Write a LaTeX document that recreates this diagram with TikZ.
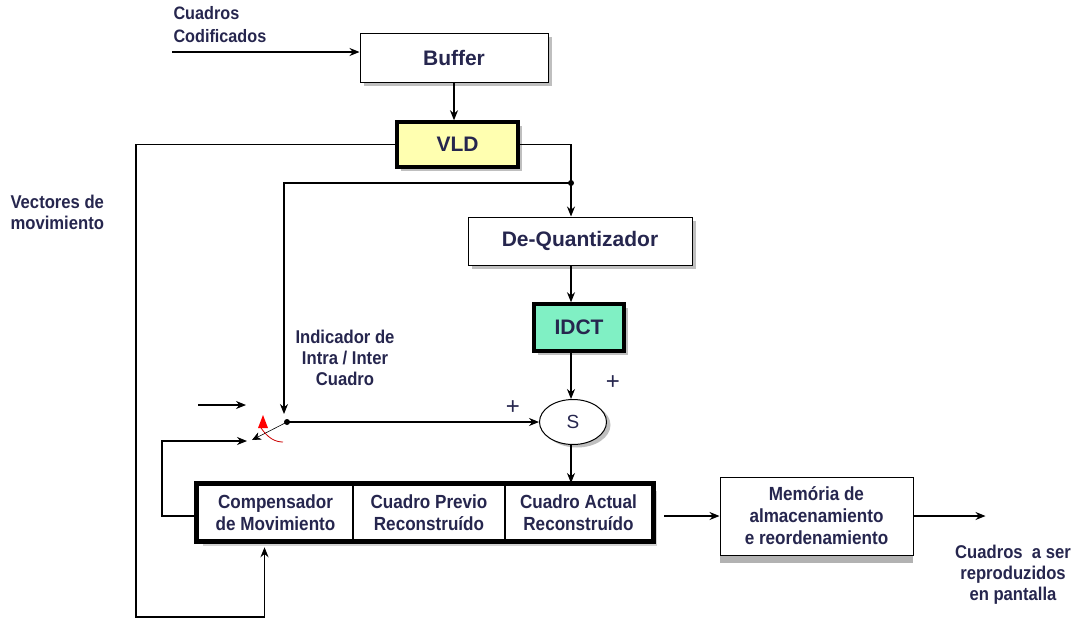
\documentclass[tikz,border=0pt]{standalone}
\usepackage{fontspec}
\setmainfont{Liberation Sans}
\newfontfamily\narrowfont[FakeStretch=0.9]{Liberation Sans}
\usepackage{tikz}
\usetikzlibrary{arrows.meta,positioning,shapes.geometric,shadows,fit,calc}
\definecolor{ink}{RGB}{38,38,78}
\definecolor{vldfill}{RGB}{255,255,176}
\definecolor{idctfill}{RGB}{128,240,196}

\begin{document}
\begin{tikzpicture}[x=1pt,y=-1pt,line width=1.1pt,
    >={Stealth[length=10pt,width=8pt]},
    lbl/.style={font=\narrowfont\bfseries\fontsize{18.5}{21}\selectfont,text=ink,align=center,inner sep=0pt},
    blk/.style={draw,fill=white,line width=1pt,inner sep=0pt,
                drop shadow={shadow xshift=4pt,shadow yshift=-4pt,fill=gray!50,opacity=1},
                font=\bfseries\fontsize{21}{24}\selectfont,text=ink},
    hblk/.style={blk,line width=3.5pt},
    cell/.style={draw,fill=white,line width=2.5pt,inner sep=0pt,minimum height=55pt,
                 font=\narrowfont\bfseries\fontsize{19}{22}\selectfont,text=ink,align=center}]
  \useasboundingbox (0,0) rectangle (1082,619);
  % blocks
  \node[blk,minimum width=188pt,minimum height=49pt] (buf) at (454,57.5) {Buffer};
  \node[hblk,fill=vldfill,minimum width=121pt,minimum height=45pt] (vld) at (457.5,144.5) {VLD};
  \node[blk,minimum width=224pt,minimum height=48pt] (deq) at (580,241) {De-Quantizador};
  \node[hblk,fill=idctfill,minimum width=90pt,minimum height=47pt] (idct) at (579,327.5) {IDCT};
  \node[draw,ellipse,fill=white,line width=1pt,minimum width=67pt,minimum height=45pt,
        drop shadow={shadow xshift=4pt,shadow yshift=-3pt,fill=gray!50,opacity=1},
        font=\fontsize{19}{21}\selectfont,text=ink] (sum) at (573,422) {S};
  \node[draw,line width=4pt,inner sep=0pt,minimum width=454pt,minimum height=55pt,
        drop shadow={shadow xshift=5pt,shadow yshift=-6pt,fill=gray!35,opacity=1}] (frm) at (425,512.5) {};
  \node[cell,minimum width=155pt] (comp) at (275.5,512.5) {Compensador\\de Movimiento};
  \node[cell,minimum width=152pt] (prev) at (429,512.5) {Cuadro Previo\\Reconstruído};
  \node[cell,minimum width=147pt] (act) at (578.5,512.5) {Cuadro Actual\\Reconstruído};
  \draw[line width=4pt] (frm.north west) rectangle (frm.south east);
  \node[cell,line width=1pt,minimum width=193pt,minimum height=78pt,
        drop shadow={shadow xshift=0pt,shadow yshift=-8pt,fill=gray!60,opacity=1}] (mem) at (816.5,516)
        {Memória de\\almacenamiento\\e reordenamiento};
  % labels
  \node[lbl,font=\narrowfont\bfseries\fontsize{18}{23}\selectfont,align=left,anchor=north west] (inlbl) at (173,6) {Cuadros\\Codificados};
  \node[lbl,align=left,anchor=north west] (vec) at (10,194.5) {Vectores de\\movimiento};
  \node[lbl,anchor=north] (ind) at (345,329.5) {Indicador de\\Intra / Inter\\Cuadro};
  \node[lbl,anchor=north] (outlbl) at (1013,544.5) {Cuadros \ a ser\\reproduzidos\\en pantalla};
  \node[font=\fontsize{24}{24}\selectfont,text=ink] (p1) at (613,383) {+};
  \node[font=\fontsize{24}{24}\selectfont,text=ink] (p2) at (513,408) {+};
  % switch
  \coordinate (swa) at (252,440);
  \coordinate (swb) at (287,422);
  \coordinate (swtop) at (284,414);
  \coordinate (swin) at (198,405);
  \coordinate (swin2) at (246,405);
  \coordinate (swlt) at (247,441);
  \fill (swb) circle (3pt);
  \draw[{Stealth[length=9pt,width=8pt]}-,line width=0.6pt] (swa) -- (swb);
  \fill[red] (258,428) -- (263,415) -- (268,428) -- cycle;
  \draw[red!80!black,line width=0.8pt] (261,428) .. controls (268,438) and (275,442) .. (283,442);
  % connectors
  \coordinate (src) at (172,52);
  \draw[->] (src) -- (buf.west |- src);
  \draw[->] (buf.south) -- (buf.south |- vld.north);
  \coordinate (jn) at (571,183);
  \draw (vld.east) -| (jn);
  \fill (jn) circle (3pt);
  \draw[->] (jn) -- (jn |- deq.north);
  \draw[->] (jn) -| (swtop);
  \draw[->] (deq.south -| jn) -- (idct.north -| jn);
  \draw[->] (idct.south -| jn) -- (sum.north -| jn);
  \draw[->] (swb) -- (sum.west);
  \draw[->] (swin) -- (swin2);
  \draw[->] (sum.south -| jn) -- (frm.north -| jn);
  \draw[->] (comp.west |- 0,516) -- (162,516) |- (swlt);
  \coordinate (lft) at (136,617);
  \draw[->] (vld.west) -| (lft) -| ($(comp.south)+(-11,6)$);
  \draw[->] (frm.east |- mem.west) ++(10,0) coordinate (frmr) (frmr) -- (mem.west);
  \draw[->] (mem.east) -- ++(72,0);
\end{tikzpicture}
\end{document}
